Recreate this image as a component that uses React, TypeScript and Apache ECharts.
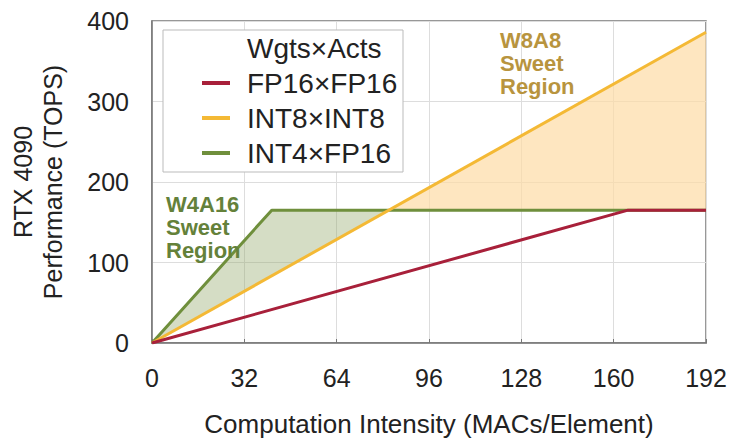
import React, { useEffect, useRef } from "react";
import * as echarts from "echarts";

const xTicks = [0, 32, 64, 96, 128, 160, 192];
const fp16Line: number[][] = [[0, 0], [165, 165], [192, 165]];
const int8Line: number[][] = [[0, 0], [192, 386]];
const int4Line: number[][] = [[0, 0], [41.5, 165], [192, 165]];
const crossX = 82.1; // where INT8 meets the 165 TOPS plateau
const w4a16Region: number[][] = [[0, 0], [41.5, 165], [crossX, 165]];
const w8a8Region: number[][] = [[crossX, 165], [192, 386], [192, 165]];
const w4a16Label = ["W4A16", "Sweet", "Region"];
const w8a8Label = ["W8A8", "Sweet", "Region"];

const RED = "#a8203a";
const YELLOW = "#f4b935";
const GREEN = "#6f8f3c";
const FONT = "'Liberation Sans', Arial, Helvetica, sans-serif";

export default function App() {
  const ref = useRef<HTMLDivElement>(null);
  useEffect(() => {
    if (!ref.current) return;
    const chart = echarts.init(ref.current, undefined, { renderer: "svg" });
    const regionSeries = (pts: number[][], fill: string) => ({
      type: "custom",
      z: 1,
      silent: true,
      data: [[0, 0]],
      renderItem: (_p: any, api: any) => ({
        type: "polygon",
        shape: { points: pts.map((p) => api.coord(p)) },
        style: { fill },
      }),
    });
    const labelLines = (lines: string[], x: number, y0: number, step: number, fill: string) =>
      lines.map((t, i) => ({
        type: "text",
        z: 9,
        x,
        y: y0 + i * step,
        style: {
          text: t,
          fontSize: 22,
          fontWeight: "bold",
          fill,
          fontFamily: FONT,
          verticalAlign: "middle",
        },
      }));
    chart.setOption({
      animation: false,
      textStyle: { fontFamily: FONT },
      grid: {
        left: 152,
        top: 21,
        right: 24,
        bottom: 96,
        containLabel: false,
        outerBoundsMode: "none",
        show: true,
        borderColor: "#777",
        borderWidth: 1.5,
      },
      xAxis: {
        type: "value",
        min: 0,
        max: 192,
        interval: 32,
        name: "Computation Intensity (MACs/Element)",
        nameLocation: "middle",
        nameGap: 68,
        nameTextStyle: { fontSize: 26, color: "#222", fontFamily: FONT },
        axisLine: { show: true, lineStyle: { color: "#777", width: 1.5 } },
        axisTick: { show: true, inside: true, length: 4, lineStyle: { color: "#777" } },
        axisLabel: { fontSize: 25, color: "#222", margin: 22, fontFamily: FONT },
        splitLine: { show: true, lineStyle: { color: "#ddd", width: 1 } },
      },
      yAxis: {
        type: "value",
        min: 0,
        max: 400,
        interval: 100,
        name: "RTX 4090\nPerformance (TOPS)",
        nameLocation: "middle",
        nameRotate: 90,
        nameGap: 84,
        nameTextStyle: { fontSize: 25, color: "#222", lineHeight: 30, fontFamily: FONT },
        axisLine: { show: true, lineStyle: { color: "#777", width: 1.5 } },
        axisTick: { show: false },
        axisLabel: { fontSize: 25, color: "#222", margin: 23, fontFamily: FONT },
        splitLine: { show: true, lineStyle: { color: "#ddd", width: 1 } },
      },
      legend: {
        orient: "vertical",
        left: 202,
        top: 69,
        padding: 0,
        itemGap: 7,
        itemWidth: 28,
        itemHeight: 4,
        icon: "rect",
        z: 10,
        textStyle: { fontSize: 28, color: "#222", padding: [0, 0, 0, 12], fontFamily: FONT },
        data: ["FP16×FP16", "INT8×INT8", "INT4×FP16"],
      },
      graphic: [
        {
          type: "rect",
          z: 8,
          shape: { x: 163, y: 30, width: 240, height: 142 },
          style: { fill: "#fff", stroke: "#bbb", lineWidth: 1 },
        },
        {
          type: "text",
          z: 9,
          x: 247,
          y: 48,
          style: { text: "Wgts×Acts", fontSize: 28, fill: "#222", fontFamily: FONT, verticalAlign: "middle" },
        },
        ...labelLines(w4a16Label, 166, 204, 23, "#64813a"),
        ...labelLines(w8a8Label, 500, 40, 23, "#b8943e"),
      ],
      series: [
        regionSeries(w4a16Region, "rgba(150,170,110,0.4)"),
        regionSeries(w8a8Region, "rgba(253,220,165,0.7)"),
        {
          name: "INT4×FP16",
          type: "line",
          z: 2,
          data: int4Line,
          showSymbol: false,
          color: GREEN,
          lineStyle: { color: GREEN, width: 3 },
        },
        {
          name: "INT8×INT8",
          type: "line",
          z: 3,
          data: int8Line,
          showSymbol: false,
          color: YELLOW,
          lineStyle: { color: YELLOW, width: 3 },
        },
        {
          name: "FP16×FP16",
          type: "line",
          z: 4,
          data: fp16Line,
          showSymbol: false,
          color: RED,
          lineStyle: { color: RED, width: 3 },
        },
      ],
    });
    return () => chart.dispose();
  }, []);
  return <div ref={ref} style={{ width: 730, height: 439, position: "absolute", left: 0, top: 0 }} />;
}
